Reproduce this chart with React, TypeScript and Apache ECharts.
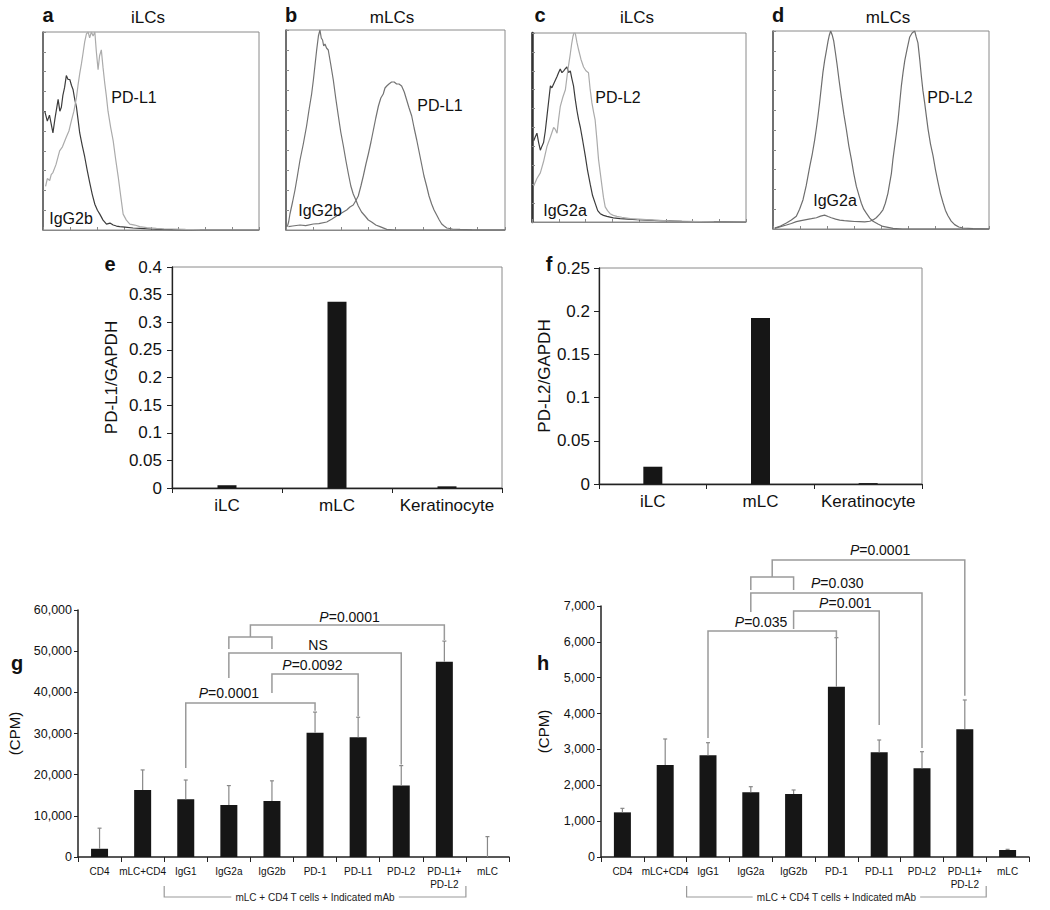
import React, { useEffect, useRef } from 'react';
import * as echarts from 'echarts';

const FF = '"Liberation Sans", Arial, Helvetica, sans-serif';

// ---------- flow cytometry histograms (x: fluorescence channel %, y: % of max count)
const aIgG2b = [[0.8,60],[2,55],[3,58],[4.6,49],[5.5,56],[7,66],[7.8,60],[8.5,62],[9.2,68],[10,72],[10.8,78],[11.6,76],[12.4,76],[13.2,73],[13.9,71],[14.7,66],[15.5,62],[16.2,56],[17,49],[18.1,43],[19.3,37],[20.5,30],[21.6,24],[22.8,18],[24,13],[25.2,10],[26.3,8],[27.8,5],[29.4,3],[31,3.5],[32.5,2.5],[34,2],[35.5,1.7],[38,1.5],[41.7,1],[45,0.8],[50,0.5],[55,0.3],[60,0.2],[70,0.1],[100,0]];
const aPDL1 = [[1.2,22],[2,26],[3.1,25],[3.8,28],[4.6,29],[6,33],[7.7,40],[9,42],[10.8,47],[12,50],[13.1,55],[14.3,60],[15.5,67],[16.2,73],[17,79],[17.8,84],[18.5,89],[19.3,95],[20.1,99],[20.9,100],[21.6,97],[22.4,100],[23.2,98],[24,100],[24.7,90],[25.5,81],[26.2,88],[27,91],[27.8,82],[28.6,74],[29.3,68],[30.1,60],[31.3,52],[32.5,45],[33.6,36],[34.8,27],[36,17],[37.1,8],[38.6,5],[40.2,3],[42.5,2.5],[44.8,1.7],[48,1.2],[52.5,0.8],[56,0.6],[60.3,0.5],[66,0.3],[72.6,0.1],[100,0]];
const bIgG2b = [[0.6,1.7],[1.2,4],[1.8,8],[3,14],[4.1,20],[5.2,27],[6.4,35],[7.9,43],[9.4,52],[10.5,60],[11.7,68],[12.5,75],[13.2,82],[14,90],[14.8,97],[15.5,100],[16.1,96],[16.7,95],[17.2,92],[17.8,93],[18.5,91],[19.3,90],[20.4,83],[21.6,75],[22.7,66],[23.9,57],[25,49],[26.2,42],[27.3,35],[28.5,28],[29.6,22],[30.7,18],[31.9,15],[33,12],[34.5,9],[36.1,7],[37.6,5],[39.1,4],[41,2.5],[42.9,1.7],[46,0.3],[50,0],[100,0]];
const bPDL1 = [[1.1,1.7],[3,2],[6.4,2.5],[9,2.2],[12.5,3],[15,3.2],[18.6,4],[21,5.5],[23.1,7],[25.4,8.5],[27.7,10],[29.2,11.5],[30.7,12.5],[31.8,14.5],[33,17],[34.2,22],[35.3,27],[36.5,33],[37.6,38],[38.8,44],[39.9,50],[41,56],[42.2,62],[43.3,66],[44.4,68],[45.2,71],[46,72],[47,73],[48.2,74],[49.4,74],[50.5,73],[51.6,73],[52.8,72],[54,69],[55.1,65],[56.2,61],[57.4,57],[58.5,51],[59.7,45],[60.8,39],[61.9,33],[63,27],[64.2,22],[65.3,17],[66.5,13],[67.6,10],[68.8,7.5],[70,5],[71.1,3],[72.2,2],[73.4,1],[76,0.5],[79.5,0.3],[85,0.1],[100,0]];
const cIgG2a = [[0.8,43],[1.5,45],[2.3,47],[3.1,42],[3.9,38],[4.6,40],[5.4,42],[6.2,48],[7,56],[7.8,64],[8.6,72],[9.3,71],[10.1,73],[10.9,75],[11.7,77],[12.4,79],[13.2,81],[14,79],[14.8,80],[15.5,81],[16.3,82],[17.1,79],[17.9,80],[18.6,76],[19.4,72],[20.2,65],[21,59],[21.8,54],[22.6,50],[23.7,43],[24.9,35],[26,27],[27.2,20],[28.3,14],[29.5,10],[30.7,6],[31.9,4.4],[33.4,3.5],[35,3],[38,2.2],[41.2,1.8],[45,1.5],[49,1.2],[54,1],[59.9,0.7],[70,0.4],[80,0.2],[100,0]];
const cPDL2 = [[0.8,19],[2.3,23],[3.9,26],[5.4,32],[7,40],[8.6,45],[10.1,50],[10.9,49],[11.7,47],[12.4,54],[13.2,61],[14.4,66],[15.6,70],[16.7,80],[17.9,89],[18.5,94],[19.1,98],[19.6,100],[20.2,100],[21,95],[21.8,91],[22.9,86],[24.1,82],[25.2,80],[26.4,79],[27.2,70],[28,63],[28.8,58],[29.5,54],[30.3,44],[31.1,33],[31.9,26],[32.7,19],[33.4,13],[34.2,8],[35.3,6],[36.5,4.4],[38,3.5],[39.7,3],[42,2.5],[45.9,1.8],[50,1.5],[56.8,1],[64,0.6],[72.3,0.4],[85,0.1],[100,0]];
const dIgG2a = [[0.8,0.5],[3.5,1.5],[6.2,3],[8.5,4.5],[10.8,6.4],[12.3,10],[13.9,14.8],[15.4,22],[17,31.5],[18.2,38],[19.3,45],[20.1,51],[20.8,56.7],[21.6,64],[22.4,72],[23.1,79],[23.9,85],[24.7,90],[25.5,95],[26.1,98],[26.7,100],[27.4,98],[28.1,95],[28.9,89],[29.6,83.6],[30.6,75],[31.6,67],[32.8,58],[34,50],[35.1,42],[36.3,35],[37.4,28],[38.6,21.5],[39.8,17],[40.9,13],[42,10],[43.2,8],[44.8,5.5],[46.3,3.9],[48.6,2.5],[50.9,1.3],[55.6,0.3],[60,0],[100,0]];
const dPDL2 = [[0.8,0.3],[3.5,1.2],[6.2,2],[8.5,2.8],[10.8,3.7],[13,4.2],[15.4,4.7],[17.8,5.2],[20.1,5.7],[22,6.5],[23.9,7],[25.5,6.3],[27,5.7],[29,5],[30.9,4.5],[33,4.2],[35.5,4],[37.8,3.8],[40.1,3.7],[42.5,3.6],[44.8,3.9],[46.3,4.6],[47.8,5.7],[49.4,7.5],[50.9,9.7],[52,13],[53.2,18],[54,23],[54.8,28],[55.5,35],[56.3,41.6],[57.1,48],[57.9,55],[58.6,63],[59.4,72],[60.2,79],[61,85],[62.1,91],[63.3,97],[64.4,99],[65.6,100],[66.3,97],[67.1,94],[67.9,86],[68.7,77],[69.4,70],[70.2,63.8],[71,57],[71.8,50.3],[72.9,43],[74.1,36.9],[75.2,30],[76.4,23.5],[77.5,18],[78.7,13.4],[79.8,9.5],[81,6.7],[82.5,4],[84.1,2.2],[86,1],[88,0.5],[92.6,0.2],[100,0]];

// ---------- qPCR
const qCategories = ['iLC', 'mLC', 'Keratinocyte'];
const ePDL1 = [0.005, 0.337, 0.003];
const fPDL2 = [0.02, 0.192, 0.001];

// ---------- proliferation (CPM)
const mixCategories = ['CD4', 'mLC+CD4', 'IgG1', 'IgG2a', 'IgG2b', 'PD-1', 'PD-L1', 'PD-L2', 'PD-L1+\nPD-L2', 'mLC'];
const gCPM = [2000, 16300, 14000, 12650, 13600, 30200, 29100, 17350, 47450, 0];
const gErr = [5000, 4850, 4700, 4700, 4900, 5000, 4850, 4850, 5000, 4950];
const hCPM = [1245, 2566, 2836, 1804, 1757, 4750, 2919, 2473, 3561, 195];
const hErr = [112, 725, 352, 157, 112, 1366, 344, 464, 818, 19];

// brackets: category index span, heights in CPM
const gBrackets = [
  { from: 2, to: 5, top: 37400, leftEnd: 21600, rightEnd: 35500 },
  { from: 4, to: 6, top: 44450, leftEnd: 39840, rightEnd: 34200 },
  { from: 3, to: 7, top: 49550, leftEnd: 43480, rightEnd: 22500 },
  { from: 3, to: 4, top: 53440, leftEnd: 50530, rightEnd: 50530 },
  { from: 3.5, to: 8, top: 56360, leftEnd: 53440, rightEnd: 52700 },
];
const gLabels = [
  { text: '{i|P}=0.0001', at: 3.0, y: 39840 },
  { text: '{i|P}=0.0092', at: 4.94, y: 46640 },
  { text: 'NS', at: 5.07, y: 51500 },
  { text: '{i|P}=0.0001', at: 5.8, y: 58300 },
];
const hBrackets = [
  { from: 2, to: 5, top: 6303, leftEnd: 3319, rightEnd: 6116 },
  { from: 4, to: 6, top: 6861, leftEnd: 6359, rightEnd: 3681 },
  { from: 3, to: 7, top: 7363, leftEnd: 6833, rightEnd: 3040 },
  { from: 3, to: 4, top: 7809, leftEnd: 7447, rightEnd: 7447 },
  { from: 3.5, to: 8, top: 8283, leftEnd: 7809, rightEnd: 4500 },
];
const hLabels = [
  { text: '{i|P}=0.035', at: 3.24, y: 6554 },
  { text: '{i|P}=0.001', at: 5.21, y: 7084 },
  { text: '{i|P}=0.030', at: 5.02, y: 7642 },
  { text: '{i|P}=0.0001', at: 6.02, y: 8562 },
];
const groupSpan = { from: 1.5, to: 8.5, text: 'mLC + CD4 T cells + Indicated mAb' };

const xAt = (api: any, v: number) => {
  const i0 = Math.floor(v);
  const a = api.coord([i0, 0])[0];
  if (v === i0) return a;
  const b = api.coord([i0 + 1, 0])[0];
  return a + (b - a) * (v - i0);
};

function buildOption() {
  const grids = [
    { left: 43, top: 32, width: 216, height: 198 },
    { left: 286, top: 30, width: 219, height: 200 },
    { left: 532, top: 33, width: 214, height: 189 },
    { left: 773, top: 31, width: 216, height: 198 },
    { left: 172, top: 267, width: 330, height: 221 },
    { left: 599, top: 268, width: 323, height: 216 },
    { left: 78, top: 610, width: 431, height: 247 },
    { left: 601, top: 606, width: 428, height: 251 },
  ].map((g, i) => ({
    ...g,
    show: i < 6,
    borderColor: '#8a8a8a',
    borderWidth: 1,
    containLabel: false,
  }));

  const histX = [0, 1, 2, 3].map((i) => ({
    gridIndex: i, type: 'value', min: 0, max: 100, interval: 12.5,
    axisLine: { show: true, lineStyle: { color: '#888', width: 1 } },
    axisTick: { show: true, inside: true, length: 3, lineStyle: { color: '#888' } },
    axisLabel: { show: false }, splitLine: { show: false },
  }));
  const histY = [0, 1, 2, 3].map((i) => ({
    gridIndex: i, type: 'value', min: 0, max: 100, interval: 10,
    axisLine: { show: true, lineStyle: { color: i === 2 ? '#333' : '#555', width: i === 2 ? 2.5 : 1.5 } },
    axisTick: { show: true, inside: true, length: 3, lineStyle: { color: '#888' } },
    axisLabel: { show: false }, splitLine: { show: false },
  }));

  const axisBlack = { show: true, lineStyle: { color: '#222', width: 1.3 } };
  const qX = [4, 5].map((i) => ({
    gridIndex: i, type: 'category', data: qCategories,
    axisLine: axisBlack,
    axisTick: { show: true, length: 5, lineStyle: { color: '#222' } },
    axisLabel: { fontSize: 17, fontFamily: FF, color: '#111', margin: 9, interval: 0 },
  }));
  const qY = [
    { gridIndex: 4, type: 'value', min: 0, max: 0.4, interval: 0.05, name: 'PD-L1/GAPDH', nameGap: 52, margin: 10 },
    { gridIndex: 5, type: 'value', min: 0, max: 0.25, interval: 0.05, name: 'PD-L2/GAPDH', nameGap: 44, margin: 9 },
  ].map(({ margin, ...y }) => ({
    ...y,
    nameLocation: 'middle',
    nameTextStyle: { fontSize: 17, fontFamily: FF, color: '#111' },
    axisLine: axisBlack,
    axisTick: { show: true, length: 5, lineStyle: { color: '#222' } },
    axisLabel: { fontSize: 17, fontFamily: FF, color: '#111', margin, formatter: (v: number) => String(+v.toFixed(2)) },
    splitLine: { show: false },
  }));

  const cX = [6, 7].map((i) => ({
    gridIndex: i, type: 'category', data: mixCategories,
    axisLine: { show: true, lineStyle: { color: '#222', width: 1.5 } },
    axisTick: { show: true, length: 5, lineStyle: { color: '#222' } },
    axisLabel: { fontSize: 10, fontFamily: FF, color: '#111', margin: 8, lineHeight: 13, interval: 0 },
  }));
  const cY = [
    { gridIndex: 6, min: 0, max: 60000, interval: 10000, nameGap: 56 },
    { gridIndex: 7, min: 0, max: 7000, interval: 1000, nameGap: 50 },
  ].map((y) => ({
    ...y,
    type: 'value',
    name: '(CPM)',
    nameLocation: 'middle',
    nameTextStyle: { fontSize: 15, fontFamily: FF, color: '#111' },
    axisLine: { show: true, lineStyle: { color: '#222', width: 1.5 } },
    axisTick: { show: true, length: 4, lineStyle: { color: '#222' } },
    axisLabel: { fontSize: 12.5, fontFamily: FF, color: '#111', margin: 6, formatter: (v: number) => v.toLocaleString('en-US') },
    splitLine: { show: false },
  }));

  const histSeries = [
    { idx: 0, data: aIgG2b, color: '#3c3c3c' },
    { idx: 0, data: aPDL1, color: '#ababab' },
    { idx: 1, data: bIgG2b, color: '#737373' },
    { idx: 1, data: bPDL1, color: '#737373' },
    { idx: 2, data: cIgG2a, color: '#3c3c3c' },
    { idx: 2, data: cPDL2, color: '#ababab' },
    { idx: 3, data: dIgG2a, color: '#6e6e6e' },
    { idx: 3, data: dPDL2, color: '#6e6e6e' },
  ].map((s) => ({
    type: 'line', xAxisIndex: s.idx, yAxisIndex: s.idx, data: s.data,
    symbol: 'none', showSymbol: false, lineStyle: { color: s.color, width: 1.2 }, clip: true, z: 3,
  }));

  const barSeries = [
    { idx: 4, data: ePDL1, w: 19 },
    { idx: 5, data: fPDL2, w: 19 },
    { idx: 6, data: gCPM, w: 17 },
    { idx: 7, data: hCPM, w: 17 },
  ].map((s) => ({
    type: 'bar', xAxisIndex: s.idx, yAxisIndex: s.idx, data: s.data, barWidth: s.w,
    itemStyle: { color: '#161616' }, z: 2,
  }));

  const errSeries = [
    { idx: 6, vals: gCPM, err: gErr },
    { idx: 7, vals: hCPM, err: hErr },
  ].map((s) => ({
    type: 'custom', xAxisIndex: s.idx, yAxisIndex: s.idx, clip: false, z: 4,
    data: s.vals.map((v, i) => [i, v, v + s.err[i]]),
    renderItem: (params: any, api: any) => {
      const p0 = api.coord([api.value(0), api.value(1)]);
      const p1 = api.coord([api.value(0), api.value(2)]);
      return {
        type: 'group',
        children: [
          { type: 'line', shape: { x1: p0[0], y1: p0[1], x2: p1[0], y2: p1[1] }, style: { stroke: '#888', lineWidth: 1.2 } },
          { type: 'line', shape: { x1: p1[0] - 2, y1: p1[1], x2: p1[0] + 2, y2: p1[1] }, style: { stroke: '#888', lineWidth: 1.2 } },
        ],
      };
    },
  }));

  const bracketSeries = [
    { idx: 6, list: gBrackets },
    { idx: 7, list: hBrackets },
  ].map((s) => ({
    type: 'custom', xAxisIndex: s.idx, yAxisIndex: s.idx, clip: false, z: 5,
    data: s.list.map((_, i) => [i, 0]),
    renderItem: (params: any, api: any) => {
      const b = s.list[params.dataIndex];
      const x1 = xAt(api, b.from);
      const x2 = xAt(api, b.to);
      const yT = api.coord([0, b.top])[1];
      const yL = api.coord([0, b.leftEnd])[1];
      const yR = api.coord([0, b.rightEnd])[1];
      return {
        type: 'polyline',
        shape: { points: [[x1, yL], [x1, yT], [x2, yT], [x2, yR]] },
        style: { stroke: '#9a9a9a', lineWidth: 1.5, fill: null },
      };
    },
  }));

  const labelSeries = [
    { idx: 6, list: gLabels },
    { idx: 7, list: hLabels },
  ].map((s) => ({
    type: 'custom', xAxisIndex: s.idx, yAxisIndex: s.idx, clip: false, z: 6,
    data: s.list.map((_, i) => [i, 0]),
    renderItem: (params: any, api: any) => {
      const l = s.list[params.dataIndex];
      const x = xAt(api, l.at);
      const y = api.coord([0, l.y])[1];
      return {
        type: 'text', x, y,
        style: {
          text: l.text, fontSize: 14, fontFamily: FF, fill: '#111',
          align: 'center', verticalAlign: 'middle', textAlign: 'center', textVerticalAlign: 'middle',
          rich: { i: { fontStyle: 'italic', fontSize: 14, fontFamily: FF, fill: '#111' } },
        },
      };
    },
  }));

  const spanSeries = [6, 7].map((idx) => ({
    type: 'custom', xAxisIndex: idx, yAxisIndex: idx, clip: false, z: 5,
    data: [[0, 0]],
    renderItem: (params: any, api: any) => {
      const x1 = xAt(api, groupSpan.from);
      const x2 = xAt(api, groupSpan.to);
      const y0 = api.coord([0, 0])[1];
      const yl = y0 + 40;
      const yt = y0 + 29;
      return {
        type: 'group',
        children: [
          { type: 'polyline', shape: { points: [[x1, yt], [x1, yl], [x2, yl], [x2, yt]] }, style: { stroke: '#9a9a9a', lineWidth: 1.2, fill: null } },
          {
            type: 'text', x: (x1 + x2) / 2, y: yl,
            style: {
              text: groupSpan.text, fontSize: 10, fontFamily: FF, fill: '#222',
              align: 'center', verticalAlign: 'middle', textAlign: 'center', textVerticalAlign: 'middle',
              backgroundColor: '#fff', padding: [1, 4],
            },
          },
        ],
      };
    },
  }));

  const txt = (text: string, x: number, y: number, size: number, bold = false) => ({
    type: 'text', x, y, z: 10,
    style: {
      text, fontSize: size, fontFamily: FF, fontWeight: bold ? 'bold' : 'normal', fill: '#111',
      align: 'center', verticalAlign: 'middle', textAlign: 'center', textVerticalAlign: 'middle',
    },
  });

  const graphic = [
    txt('a', 48, 15, 20, true), txt('b', 291, 15, 20, true), txt('c', 540, 15, 20, true), txt('d', 778, 15, 20, true),
    txt('e', 110, 264, 20, true), txt('f', 549, 264, 20, true), txt('g', 17, 663, 20, true), txt('h', 543, 663, 20, true),
    txt('iLCs', 148, 17, 17), txt('mLCs', 392, 17, 17), txt('iLCs', 637, 17, 17), txt('mLCs', 888, 17, 17),
    txt('PD-L1', 134, 97, 16), txt('IgG2b', 71, 218, 16),
    txt('PD-L1', 440, 105, 16), txt('IgG2b', 320, 210, 16),
    txt('PD-L2', 618, 97, 16), txt('IgG2a', 565, 210, 16),
    txt('PD-L2', 950, 97, 16), txt('IgG2a', 835, 200, 16),
  ];

  return {
    animation: false,
    backgroundColor: '#fff',
    textStyle: { fontFamily: FF },
    grid: grids,
    xAxis: [...histX, ...qX, ...cX],
    yAxis: [...histY, ...qY, ...cY],
    series: [...histSeries, ...barSeries, ...errSeries, ...bracketSeries, ...labelSeries, ...spanSeries],
    graphic,
  };
}

export default function App() {
  const ref = useRef<HTMLDivElement>(null);
  useEffect(() => {
    if (!ref.current) return;
    const chart = echarts.init(ref.current, undefined, { renderer: 'svg' });
    chart.setOption(buildOption() as any);
    return () => chart.dispose();
  }, []);
  return (
    <div
      ref={ref}
      style={{ position: 'absolute', left: 0, top: 0, width: 1050, height: 910, background: '#fff' }}
    />
  );
}
